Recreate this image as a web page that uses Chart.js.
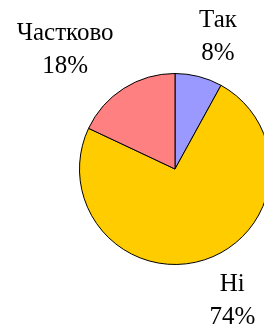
<!DOCTYPE html>
<html>
<head>
<meta charset="utf-8">
<script src="https://cdn.jsdelivr.net/npm/chart.js@4.4.1/dist/chart.umd.min.js"></script>
<style>
  html, body { margin: 0; padding: 0; background: #fff; overflow: hidden; }
  #wrap { width: 300px; height: 331px; }
</style>
</head>
<body>
<div id="wrap"><canvas id="pie" width="300" height="331"></canvas></div>
<script>
// Answer categories and their shares (%)
const categories = ["Так", "Ні", "Частково"];
const shares = [8, 74, 18];
const sliceColors = ["#9999FF", "#FFCC00", "#FF8080"];

// label anchors in units of the pie radius, measured from the pie centre
const labelSpots = [
  { dx: 0.45, dy: -1.49 },
  { dx: 0.60, dy: 1.28 },
  { dx: -1.15, dy: -1.35 }
];

const pieLabels = {
  id: "pieLabels",
  afterDatasetsDraw(chart) {
    const ctx = chart.ctx;
    const arcs = chart.getDatasetMeta(0).data;
    ctx.save();
    ctx.fillStyle = "#000";
    ctx.font = "25px 'Liberation Serif', 'Times New Roman', serif";
    ctx.textAlign = "center";
    ctx.textBaseline = "alphabetic";
    arcs.forEach((arc, i) => {
      const r = arc.outerRadius;
      const x = arc.x + labelSpots[i].dx * r;
      const y = arc.y + labelSpots[i].dy * r;
      ctx.fillText(categories[i], x, y);
      ctx.fillText(shares[i] + "%", x, y + 33);
    });
    ctx.restore();
  }
};

const ctx = document.getElementById("pie").getContext("2d");
new Chart(ctx, {
  type: "pie",
  data: {
    labels: categories,
    datasets: [{
      data: shares,
      backgroundColor: sliceColors,
      borderColor: "#000",
      borderWidth: 1
    }]
  },
  options: {
    responsive: false,
    animation: false,
    devicePixelRatio: 1,
    layout: { padding: { left: 79, right: 29, top: 73, bottom: 66 } },
    plugins: {
      legend: { display: false },
      tooltip: { enabled: false }
    }
  },
  plugins: [pieLabels]
});
</script>
</body>
</html>
